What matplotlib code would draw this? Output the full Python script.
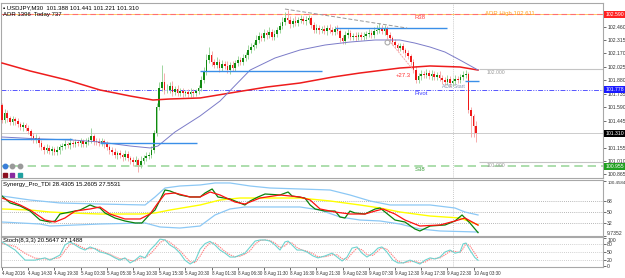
import numpy as np
import matplotlib
matplotlib.use("Agg")
import matplotlib.pyplot as plt
import matplotlib.transforms as mtransforms

plt.rcParams["font.family"] = ["Liberation Sans", "DejaVu Sans"]

# ---- price data (USDJPY M30) ----
first_open = 101.615
closes = [
    101.452, 101.528, 101.474, 101.431, 101.463, 101.442, 101.409, 101.377, 101.399, 101.366,
    101.334, 101.280, 101.237, 101.258, 101.205, 101.161, 101.129, 101.151, 101.118, 101.140,
    101.107, 101.129, 101.161, 101.172, 101.194, 101.183, 101.205, 101.194, 101.215, 101.205,
    101.226, 101.194, 101.215, 101.237, 101.280, 101.226, 101.215, 101.205, 101.226, 101.194,
    101.161, 101.129, 101.107, 101.075, 101.097, 101.075, 101.054, 101.086, 101.043, 101.021,
    101.000, 101.021, 100.967, 101.010, 101.043, 101.064, 101.075, 101.129, 101.312, 101.593,
    101.797, 101.862, 101.776, 101.776, 101.819, 101.754, 101.787, 101.744, 101.765, 101.744,
    101.754, 101.733, 101.754, 101.744, 101.765, 101.797, 101.884, 101.970, 102.099, 102.153,
    102.078, 102.045, 102.078, 102.013, 102.056, 102.035, 101.991, 102.045, 102.013, 102.067,
    102.099, 102.078, 102.121, 102.153, 102.207, 102.239, 102.261, 102.315, 102.358, 102.336,
    102.390, 102.369, 102.401, 102.347, 102.380, 102.423, 102.466, 102.509, 102.552, 102.530,
    102.487, 102.520, 102.498, 102.530, 102.541, 102.520, 102.530, 102.552, 102.477, 102.423,
    102.444, 102.423, 102.433, 102.412, 102.444, 102.423, 102.401, 102.433, 102.412, 102.336,
    102.304, 102.369, 102.390, 102.347, 102.358, 102.347, 102.369, 102.347, 102.358, 102.380,
    102.390, 102.369, 102.412, 102.423, 102.433, 102.412, 102.433, 102.369, 102.336, 102.293,
    102.261, 102.229, 102.250, 102.207, 102.175, 102.142, 102.078, 101.991, 101.884, 101.927,
    101.948, 101.938, 101.959, 101.927, 101.948, 101.916, 101.938, 101.905, 101.884, 101.862,
    101.894, 101.851, 101.873, 101.894, 101.884, 101.916, 101.938, 101.948, 101.560, 101.496,
    101.388, 101.310,
]
# wick lengths in pips above / below the body
up_wick = [
    2, 4, 3, 2, 3, 2, 3, 2, 3, 2,   3, 2, 3, 4, 2, 3, 2, 4, 3, 3,
    2, 4, 3, 3, 4, 2, 5, 3, 3, 2,   3, 2, 4, 3, 9, 2, 3, 4, 3, 2,
    3, 2, 3, 4, 2, 3, 2, 4, 3, 2,   3, 4, 2, 5, 3, 4, 3, 4, 3, 4,
    6, 18, 10, 6, 4, 5, 3, 4, 3, 3, 2, 3, 4, 3, 2, 3, 4, 5, 6, 9,
    4, 3, 5, 3, 4, 3, 5, 3, 4, 3,   4, 3, 4, 3, 5, 4, 3, 5, 4, 3,
    4, 3, 5, 3, 4, 3, 4, 5, 6, 9,   4, 3, 5, 3, 4, 3, 4, 3, 2, 3,
    4, 3, 3, 4, 3, 4, 3, 3, 4, 2,   3, 4, 4, 3, 3, 4, 3, 3, 4, 3,
    4, 3, 4, 5, 6, 4, 4, 3, 3, 2,   3, 2, 3, 3, 2, 3, 2, 3, 4, 3,
    4, 3, 4, 3, 4, 3, 3, 4, 3, 3,   4, 3, 3, 4, 3, 3, 4, 4, 2, 3,
    2, 5,
]
dn_wick = [
    3, 3, 4, 3, 3, 4, 3, 3, 4, 3,   3, 4, 3, 3, 4, 3, 4, 3, 3, 4,
    3, 3, 4, 3, 3, 3, 4, 3, 3, 3,   4, 3, 3, 3, 3, 4, 3, 3, 3, 4,
    3, 4, 3, 3, 4, 3, 4, 3, 3, 4,   4, 3, 7, 3, 3, 3, 3, 3, 3, 3,
    3, 3, 4, 3, 3, 4, 3, 3, 3, 4,   3, 3, 3, 4, 3, 3, 3, 3, 3, 3,
    4, 3, 3, 4, 3, 3, 3, 4, 3, 3,   3, 3, 3, 3, 4, 3, 3, 3, 3, 3,
    3, 4, 3, 3, 3, 3, 3, 3, 3, 3,   4, 3, 3, 3, 3, 3, 4, 3, 3, 3,
    3, 4, 3, 3, 4, 3, 3, 3, 3, 4,   3, 3, 3, 3, 3, 4, 3, 3, 3, 3,
    3, 3, 3, 3, 3, 3, 4, 3, 3, 3,   3, 3, 3, 3, 4, 3, 3, 3, 3, 3,
    4, 3, 3, 3, 4, 3, 3, 3, 4, 3,   3, 4, 3, 3, 3, 3, 3, 3, 3, 23,
    12, 9,
]

# moving averages (bar, price)
ma_red_bars = [0, 10.7, 24.8, 37.4, 48.9, 57.6, 64.1, 75.6, 87.0, 101.1, 113.7, 126.3, 136.6, 151.9, 163.4, 174.8, 181.7]
ma_red = [102.067, 101.981, 101.884, 101.776, 101.711, 101.668, 101.679, 101.690, 101.743, 101.808,
          101.851, 101.916, 101.959, 102.013, 102.035, 102.024, 101.991]
ma_blue_bars = [0, 14.5, 26.7, 37.4, 48.9, 56.5, 59.5, 66.0, 75.6, 83.2, 94.7, 104.2, 113.7, 123.3,
                132.8, 142.4, 151.9, 157.6, 163.4, 169.1, 174.8, 181.7]
ma_blue = [101.269, 101.248, 101.237, 101.215, 101.172, 101.151, 101.172, 101.323, 101.496, 101.657,
           101.991, 102.121, 102.207, 102.261, 102.293, 102.315, 102.315, 102.282, 102.239, 102.185,
           102.099, 101.991]

# levels
r38 = 102.590
pivot = 101.778
s38 = 100.955
last_price = 101.310
round_levels = [102.000, 101.000]
price_ticks = [102.460, 102.315, 102.170, 102.025, 101.880, 101.735, 101.590, 101.445, 101.155, 101.010, 100.865]
# blue box segments: (bar start, bar end, price)
box_segments = [(-1, 26.7, 101.248), (37.4, 74.4, 101.205), (75.6, 122.0, 101.981),
                (127.0, 170.0, 102.444), (176.7, 182.0, 101.873)]
trend_bars = [108.0, 154.6]
trend_prices = [102.649, 102.444]
move_bars = [147.0, 157.0]
move_prices = [102.336, 101.991]
vline_bar = 172.1

# ---- TDI ----
tdi_up_bars = [0, 10.7, 22.1, 37.4, 54.6, 58.4, 62.2, 67.9, 75.6, 81.3, 87.0, 94.7, 102.3, 113.7,
               125.2, 132.8, 140.5, 148.1, 163.4, 172.9, 176.7, 181.7]
tdi_up = [75.7, 69.1, 64.2, 62.5, 60.9, 74.1, 88.9, 92.2, 93.9, 97.2, 97.2, 92.2, 88.9, 87.3,
          85.6, 77.4, 67.5, 60.9, 60.9, 55.9, 49.3, 44.4]
tdi_dn_bars = [0, 14.5, 18.3, 37.4, 54.6, 60.3, 67.9, 75.6, 81.3, 87.0, 92.7, 113.7, 121.4, 129.0,
               136.6, 144.3, 151.9, 159.5, 167.2, 181.7]
tdi_dn = [32.8, 29.5, 26.2, 29.5, 31.2, 24.6, 22.9, 26.2, 44.4, 54.3, 57.6, 57.6, 52.6, 41.1,
          36.1, 34.5, 29.5, 21.3, 18.0, 16.3]
tdi_mid_bars = [0, 10.7, 18.3, 26.0, 37.4, 52.7, 58.4, 64.1, 75.6, 83.2, 90.8, 113.7, 125.2, 136.6,
                144.3, 151.9, 163.4, 174.8, 181.7]
tdi_mid = [54.3, 52.6, 49.3, 47.7, 46.0, 46.0, 47.7, 52.6, 60.9, 69.1, 72.4, 72.4, 67.5, 60.9,
           55.9, 49.3, 42.7, 39.4, 28.4]
tdi_green_bars = [0, 3.1, 6.9, 10.7, 14.5, 18.3, 20.2, 22.1, 26.0, 29.8, 33.6, 35.5, 37.4, 39.3, 43.1,
                  46.9, 50.8, 53.4, 56.5, 58.4, 60.3, 62.2, 64.1, 67.9, 71.8, 75.6, 77.5, 80.2, 82.4,
                  87.0, 90.8, 92.7, 94.7, 97.7, 100.4, 106.1, 109.2, 110.7, 115.6, 117.6, 119.5, 123.3,
                  127.1, 129.0, 130.9, 132.8, 134.7, 138.5, 142.4, 144.3, 146.2, 150.0, 153.8, 157.6,
                  159.5, 163.4, 169.1, 172.9, 175.6, 176.7, 178.6, 181.7]
tdi_green = [75.7, 64.2, 59.2, 50.9, 36.1, 32.8, 34.5, 46.0, 49.3, 52.6, 60.9, 57.6, 55.9, 47.7, 39.4,
             34.5, 31.2, 31.2, 46.0, 52.6, 69.1, 85.6, 84.0, 77.4, 74.1, 74.1, 80.7, 87.3, 74.1,
             70.8, 64.2, 60.9, 67.5, 74.1, 79.0, 77.4, 82.3, 75.7, 72.4, 60.9, 54.3, 50.9,
             50.9, 41.1, 39.4, 50.9, 47.7, 46.0, 54.3, 55.9, 49.3, 36.1, 32.8, 21.3,
             18.0, 26.2, 27.9, 34.5, 44.4, 39.4, 31.2, 15.3]
tdi_red_bars = [0, 6.9, 10.7, 16.4, 20.2, 24.0, 27.9, 33.6, 37.4, 41.2, 46.9, 52.7, 56.5, 59.5, 62.2,
                66.0, 71.8, 75.6, 79.4, 83.2, 88.9, 92.7, 98.5, 106.1, 113.7, 117.6, 121.4, 127.1,
                132.8, 138.5, 142.4, 145.4, 150.0, 153.8, 159.5, 167.2, 172.9, 176.7, 181.7]
tdi_red = [72.4, 60.9, 52.6, 36.1, 32.8, 39.4, 50.9, 54.3, 57.6, 46.0, 37.8, 37.8, 46.0, 64.2, 79.0,
           80.7, 74.1, 74.1, 82.3, 77.4, 65.8, 62.5, 72.4, 77.4, 74.1, 69.1, 54.3, 49.3,
           46.0, 46.0, 50.9, 54.3, 46.0, 36.1, 26.2, 27.9, 34.5, 39.4, 27.6]

# ---- Stochastic ----
st_bars = [0, 5.0, 8.8, 12.6, 16.4, 18.3, 22.1, 24.0, 26.0, 27.9, 29.8, 31.7, 33.6, 35.5, 37.4, 39.3,
           41.2, 43.1, 45.0, 46.9, 48.9, 50.8, 52.7, 54.6, 56.5, 58.4, 60.3, 62.2, 64.1, 66.0, 67.9,
           69.8, 71.8, 73.7, 75.6, 77.5, 79.4, 81.3, 83.2, 85.1, 87.0, 88.9, 90.8, 92.7, 94.7, 96.6,
           98.5, 100.4, 102.3, 104.2, 106.1, 108.0, 109.2, 110.7, 112.6, 114.5, 116.4, 118.7, 120.6,
           123.3, 126.0, 127.9, 129.8, 131.7, 133.6, 135.5, 137.4, 139.3, 141.6, 143.5, 145.0, 146.9,
           149.2, 151.1, 153.1, 155.7, 157.6, 159.5, 161.5, 163.4, 165.3, 167.2, 169.1, 171.0, 172.9,
           174.8, 176.0, 177.1, 178.6, 180.5, 181.7]
st_main = [86, 57, 21, 21, 29, 21, 39, 75, 86, 75, 64, 57, 68, 61, 50, 46, 39, 29, 21, 29,
           11, 21, 36, 29, 57, 75, 96, 93, 75, 64, 46, 21, 7, 18, 60, 80, 88, 75, 57, 46,
           32, 32, 39, 46, 68, 89, 93, 93, 89, 75, 57, 86, 89, 75, 57, 57, 50, 36, 29, 36,
           46, 32, 18, 32, 64, 68, 46, 32, 46, 64, 68, 50, 21, 11, 11, 21, 14, 7, 21, 29,
           25, 32, 50, 57, 46, 50, 79, 82, 57, 30, 20.6]
st_signal = [80, 70, 45, 28, 25, 24, 30, 55, 78, 80, 70, 62, 62, 63, 56, 48, 42, 33, 26, 26,
             20, 18, 28, 30, 42, 62, 84, 93, 85, 70, 55, 35, 15, 12, 35, 65, 83, 82, 67, 52,
             40, 33, 35, 42, 55, 78, 91, 93, 91, 82, 66, 72, 84, 82, 66, 57, 53, 44, 33, 33,
             40, 40, 26, 24, 46, 64, 58, 40, 38, 54, 66, 60, 36, 17, 11, 15, 17, 11, 14, 25,
             27, 29, 40, 53, 52, 48, 62, 80, 72, 45, 27.1]

time_ticks = list(range(0, 181, 10))
time_labels = ["4 Aug 2016", "4 Aug 14:30", "4 Aug 19:30", "5 Aug 00:30", "5 Aug 05:30",
               "5 Aug 10:30", "5 Aug 15:30", "5 Aug 20:30", "8 Aug 01:30", "8 Aug 06:30",
               "8 Aug 11:30", "8 Aug 16:30", "8 Aug 21:30", "9 Aug 02:30", "9 Aug 07:30",
               "9 Aug 12:30", "9 Aug 17:30", "9 Aug 22:30", "10 Aug 03:30"]

# ---------------------------------------------------------------
W, H = 625, 278
fig = plt.figure(figsize=(W / 100, H / 100), dpi=100)
fig.patch.set_facecolor("white")


def px_axes(top, bottom, left=1, right=603):
    return fig.add_axes([left / W, 1 - bottom / H, (right - left) / W, (bottom - top) / H])


ax = px_axes(3, 178)
ax_tdi = px_axes(180, 236)
ax_st = px_axes(237, 267)

XL = (-0.4, 229.4)
FS = 4.3      # in-chart labels
FA = 3.7      # axis labels
frame = "#a8a8a8"
for a in (ax, ax_tdi, ax_st):
    a.set_xlim(*XL)
    for s in a.spines.values():
        s.set_color(frame)
        s.set_linewidth(0.8)
    a.yaxis.tick_right()
    a.tick_params(axis="y", labelsize=FA, length=2, width=0.5, pad=1, colors="#333333")
    a.tick_params(axis="x", bottom=False, labelbottom=False)
    a.axvline(vline_bar, color="#b8b8b8", lw=0.6, ls=(0, (1, 1.5)), zorder=1)

# ---- main chart ----
ax.set_ylim(100.827, 102.714)
n = len(closes)
x = np.arange(n)
closes_a = np.array(closes)
opens_a = np.array([first_open] + closes[:-1])
top = np.maximum(opens_a, closes_a)
bot = np.minimum(opens_a, closes_a)
highs = top + np.array(up_wick) * 0.01
lows = bot - np.array(dn_wick) * 0.01
bull = closes_a >= opens_a

ax.vlines(x[bull], lows[bull], highs[bull], color="#8fcf8f", lw=0.6, zorder=3)
ax.vlines(x[~bull], lows[~bull], highs[~bull], color="#f5a0a0", lw=0.6, zorder=3)
heights = np.maximum(top - bot, 0.004)
ax.bar(x[bull], heights[bull], bottom=bot[bull], width=0.62, color="#0f8a0f", lw=0, zorder=4)
ax.bar(x[~bull], heights[~bull], bottom=bot[~bull], width=0.62, color="#f01818", lw=0, zorder=4)

ax.plot(ma_red_bars, ma_red, color="#ee1c1c", lw=1.1, zorder=5)
ax.plot(ma_blue_bars, ma_blue, color="#7b7bc8", lw=0.7, zorder=5)

ax.axhline(r38, color="#ffc34d", lw=0.6, zorder=2)
ax.axhline(r38, color="#ff7070", lw=0.8, ls=(0, (5, 3)), zorder=2)
ax.axhline(pivot, color="#5555ff", lw=0.7, ls=(0, (5, 1.5, 1, 1.5, 1, 1.5)), zorder=2)
ax.axhline(s38, color="#9ed89e", lw=1.2, ls=(0, (5, 3)), zorder=2)
ax.axhline(last_price, color="#cccccc", lw=0.7, zorder=2)
for lv in round_levels:
    ax.hlines(lv, n, XL[1], color="#c4c4c4", lw=0.8, zorder=2)
    ax.text(n + 3, lv - 0.012, f"{lv:.3f}", fontsize=FA, color="#9a9a9a", va="top")

for b0, b1, p in box_segments:
    ax.hlines(p, b0, b1, color="#3a8fe8", lw=1.0, zorder=6)
ax.plot(trend_bars, trend_prices, color="#999999", lw=0.7, ls=(0, (4, 2)), zorder=6)
ax.plot(move_bars, move_prices, color="#f5a8a8", lw=0.7, ls=(0, (2, 1)), zorder=6)
ax.plot([move_bars[0]], [102.293], marker="o", ms=3.5, mfc="none", mec="#aaaaaa", mew=0.8, zorder=7)
ax.text(150.2, 101.93, "+27.3", fontsize=FS, color="#ff3030", va="center")

ax.text(157.6, r38 - 0.01, "R38", fontsize=FS, color="#ff4040", va="top")
ax.text(184.5, r38 + 0.015, "ADR High 102.611", fontsize=FS, color="#ffa020", va="center")
ax.text(157.6, pivot - 0.01, "Pivot", fontsize=FS, color="#3b3bff", va="top")
ax.text(157.6, s38 - 0.01, "S38", fontsize=FS, color="#3ca03c", va="top")
ax.text(168.0, pivot + 0.008, "ADR Start", fontsize=FA, color="#8090b0", va="bottom")

ax.set_yticks(price_ticks)
ax.set_yticklabels([f"{t:.3f}" for t in price_ticks])

trans = mtransforms.blended_transform_factory(ax.transAxes, ax.transData)
for val, fc in ((r38, "#ff2020"), (pivot, "#1a1aff"), (last_price, "#000000"), (s38, "#20a020")):
    ax.text(1.004, val, f"{val:.3f}", transform=trans, fontsize=FA, color="white", va="center",
            ha="left", bbox=dict(boxstyle="square,pad=0.2", fc=fc, ec="none"), clip_on=False, zorder=10)

ax.text(0.004, 0.985, "\u25aa USDJPY,M30  101.388 101.441 101.221 101.310", transform=ax.transAxes,
        fontsize=FS, va="top", ha="left", color="black")
ax.text(0.004, 0.948, "ADR 1396  Today 737", transform=ax.transAxes,
        fontsize=FS, va="top", ha="left", color="black")

# little toolbar buttons bottom-left
for i, c in enumerate(["#3b7fd9", "#9a9a9a", "#9a9a9a"]):
    ax.plot(0.007 + i * 0.012, 0.07, marker="o", ms=3.2, color=c, transform=ax.transAxes, clip_on=False)
for i, c in enumerate(["#8b1020", "#8a2aa0", "#20a0a0"]):
    ax.plot(0.007 + i * 0.012, 0.015, marker="s", ms=3.0, color=c, transform=ax.transAxes, clip_on=False)

# ---- TDI ----
ax_tdi.set_ylim(9.7352, 102.1)
for lv in (68, 50, 32):
    ax_tdi.axhline(lv, color="#a0a0a0", lw=0.6, ls=(0, (1, 1.5)), zorder=1)
ax_tdi.plot(tdi_up_bars, tdi_up, color="#8cc8f5", lw=0.9)
ax_tdi.plot(tdi_dn_bars, tdi_dn, color="#8cc8f5", lw=0.9)
ax_tdi.plot(tdi_mid_bars, tdi_mid, color="#ffff00", lw=1.0)
ax_tdi.plot(tdi_green_bars, tdi_green, color="#0a820a", lw=0.9)
ax_tdi.plot(tdi_red_bars, tdi_red, color="#ff1010", lw=0.9)
ax_tdi.set_yticks([100.4584, 68, 50, 32, 9.7352])
ax_tdi.set_yticklabels(["100.4584", "68", "50", "32", "9.7352"])
tl = ax_tdi.get_yticklabels()
tl[0].set_fontsize(3.2)
tl[0].set_verticalalignment("top")
tl[-1].set_verticalalignment("bottom")
ax_tdi.text(0.004, 0.97, "Synergy_Pro_TDI 28.4305 15.2605 27.5531", transform=ax_tdi.transAxes,
            fontsize=FS, va="top", ha="left", color="black")

# ---- Stochastic ----
ax_st.set_ylim(-3.6, 103.6)
for lv in (80, 50, 20):
    ax_st.axhline(lv, color="#c0c0c0", lw=0.6, ls=(0, (1, 1.5)), zorder=1)
ax_st.plot(st_bars, st_signal, color="#ff8080", lw=0.8, ls=(0, (1.2, 0.8)))
ax_st.plot(st_bars, st_main, color="#6fd4d0", lw=0.8)
ax_st.set_yticks([100, 80, 50, 20, 0])
ax_st.set_yticklabels(["100", "80", "50", "20", "0"])
sl = ax_st.get_yticklabels()
sl[0].set_verticalalignment("top")
ax_st.text(0.004, 0.97, "Stoch(8,3,3) 20.5647 27.1488", transform=ax_st.transAxes,
           fontsize=FS, va="top", ha="left", color="black")

ax_st.set_xticks(time_ticks)
ax_st.set_xticklabels(time_labels)
ax_st.tick_params(axis="x", bottom=True, labelbottom=True, labelsize=3.25, length=2, width=0.5,
                  pad=1, colors="#333333")
for lab in ax_st.get_xticklabels():
    lab.set_horizontalalignment("left")

fig.savefig("out.png", dpi=100, facecolor="white")
